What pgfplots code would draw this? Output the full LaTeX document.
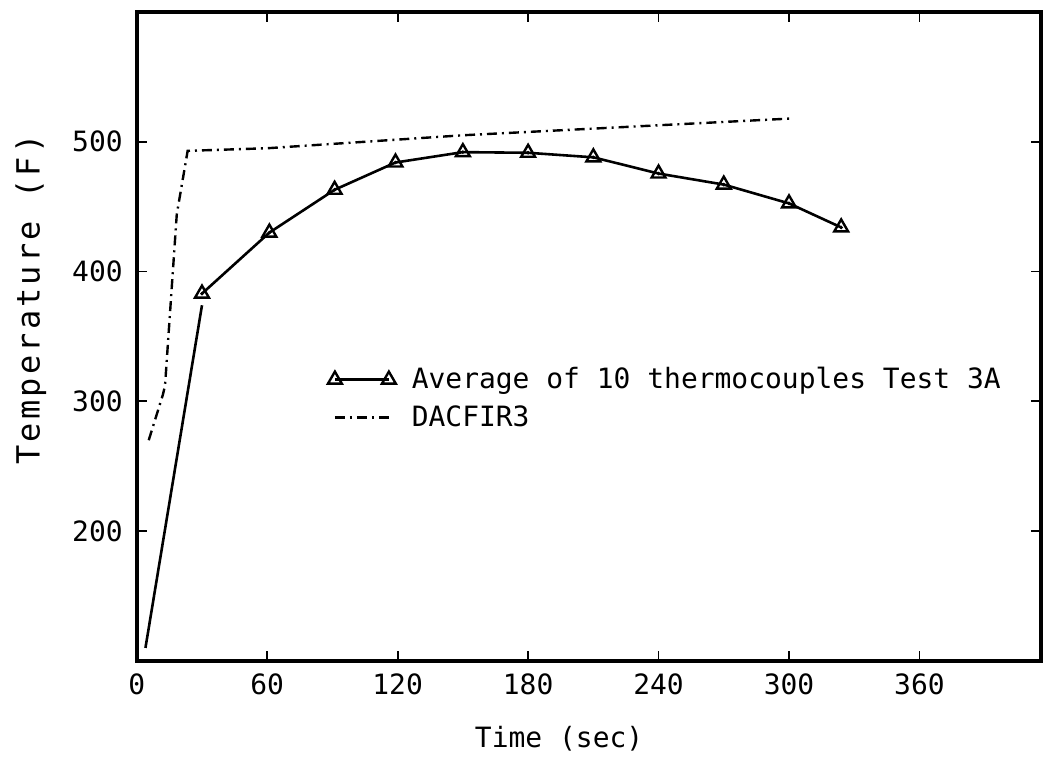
\documentclass[border=0pt]{standalone}
\usepackage{fontspec}
\setmainfont{DejaVu Sans Mono}
\newfontfamily\ylabfont[LetterSpace=10]{DejaVu Sans Mono}
\usepackage{pgfplots}
\pgfplotsset{compat=1.18}
\begin{document}
\begin{tikzpicture}
\begin{axis}[
  name=ax,
  scale only axis,
  width=453pt, height=325pt,
  xmin=0, xmax=416, ymin=100, ymax=600,
  xtick={0,60,120,180,240,300,360},
  ytick={200,300,400,500},
  tick align=inside,
  major tick length=5pt,
  tick style={black, line width=0.9pt},
  axis line style={line width=1.8pt},
  font=\fontsize{14}{17}\selectfont,
  /pgf/number format/assume math mode=true,
  xticklabel style={yshift=-3pt},
  yticklabel style={xshift=-3.5pt},
  xlabel={Time (sec)},
  ylabel={\ylabfont Temperature (F)},
  every axis x label/.style={at={(rel axis cs:0.467,0)}, yshift=-39pt, anchor=center},
  every axis y label/.style={at={(rel axis cs:0,0.557)}, xshift=-53pt, rotate=90, anchor=center, font=\fontsize{16}{19}\selectfont},
  legend style={at={(rel axis cs:0.211,0.459)}, anchor=north west, draw=none, fill=none,
    font=\fontsize{14}{17}\selectfont, row sep=3pt, column sep=6pt, inner sep=0pt},
  legend cell align=left,
  legend image code/.code={\draw[#1] plot coordinates {(0cm,0cm) (0.95cm,0cm)};},
  clip=false,
]
\addplot[black, line width=1.3pt, mark=triangle, mark size=4pt, mark options={line width=1.2pt, solid}]
  coordinates {(30,383) (61,430) (91,463) (119,484) (150,492) (180,491.5) (210,488) (240,475.5) (270,467) (300,452.5) (324,434)};
\addlegendentry{Average of 10 thermocouples Test 3A}
\addplot[black, line width=1.2pt, dash pattern=on 5pt off 2.5pt on 1pt off 2.5pt]
  coordinates {(5.5,270) (12,305) (13,312) (18.4,444) (23.4,493) (60,495) (150,505) (302,518)};
\addlegendentry{DACFIR3}
\addplot[black, only marks, mark=*, mark size=0.7pt, forget plot]
  coordinates {(30,383) (61,430) (91,463) (119,484) (150,492) (180,491.5) (210,488) (240,475.5) (270,467) (300,452.5) (324,434)};
\addplot[black, line width=1.3pt, forget plot] coordinates {(4,110) (30,374)};
\end{axis}
\path (ax.north) ++(0,6pt);
\path (ax.west) ++(-68.5pt,0);
\path (ax.south) ++(0,-49pt);
\end{tikzpicture}
\end{document}
